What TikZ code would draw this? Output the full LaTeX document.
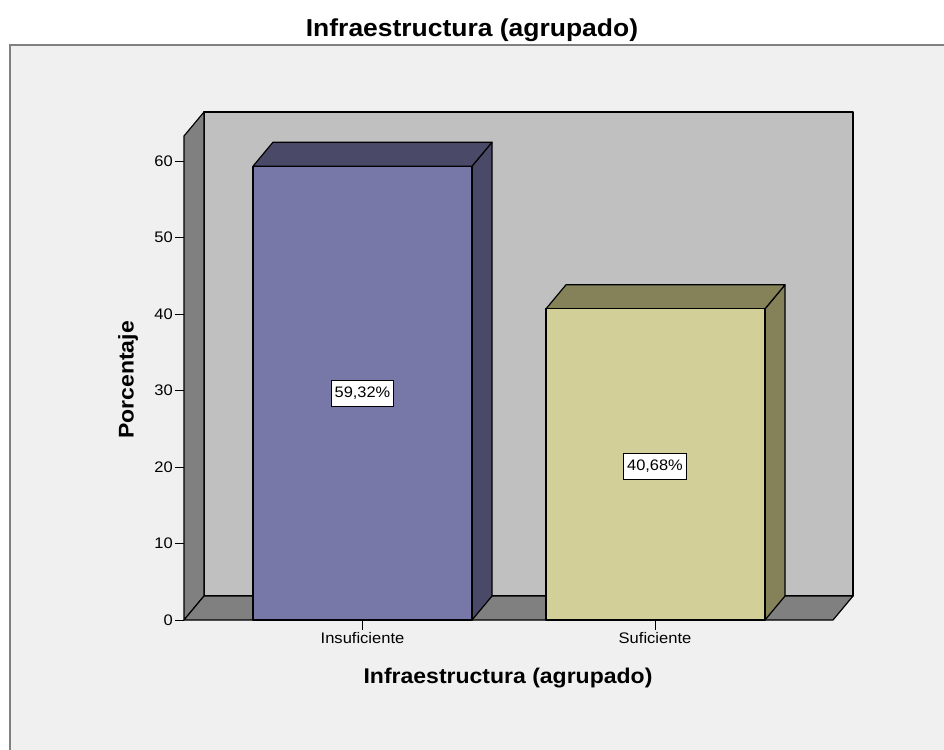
\documentclass[tikz,border=0pt]{standalone}
\usepackage{fontspec}
\setmainfont{Liberation Sans}[FakeStretch=1.08]
\usepackage{xcolor}

\definecolor{framebg}{HTML}{F0F0F0}
\definecolor{backwall}{HTML}{C0C0C0}
\definecolor{sidewall}{HTML}{808080}
\definecolor{insfront}{HTML}{7878A8}
\definecolor{insdark}{HTML}{4A4A68}
\definecolor{suffront}{HTML}{D3CF99}
\definecolor{sufdark}{HTML}{858159}

\begin{document}
\begin{tikzpicture}
  [x=1pt,y=-1pt,every node/.style={inner sep=0pt},
   face/.style={draw=black,line width=1.2pt,line join=round},
   ticklab/.style={font=\fontsize{15.3}{17}\selectfont},
   axtitle/.style={font=\bfseries\fontsize{21.3}{24}\selectfont},
   valbox/.style={draw=black,fill=white,line width=0.8pt,inner xsep=3.5pt,
     minimum height=26pt,font=\fontsize{15.2}{17}\selectfont}]
  \useasboundingbox (0,0) rectangle (944,749);
  \fill[white] (0,0) rectangle (944,749);

  % frame
  \draw[fill=framebg,draw=gray,line width=2pt] (10,45) rectangle (960,770);
  \node[font=\bfseries\fontsize{24.5}{28}\selectfont] (title) at (472,30) {Infraestructura (agrupado)};

  % walls and floor
  \draw[face,fill=backwall] (204,112) rectangle (853,596);
  \draw[face,fill=sidewall] (184,620) -- (184,136) -- (204,112) -- (204,596) -- cycle;
  \draw[face,fill=sidewall] (184,620) -- (833,620) -- (853,596) -- (204,596) -- cycle;

  % bars: left/value/front/dark
  \foreach \xl/\val/\cf/\cd in {253/59.32/insfront/insdark,546/40.68/suffront/sufdark}{
    \pgfmathsetmacro\yt{620-7.65*\val}
    \pgfmathsetmacro\xr{\xl+219}
    \draw[face,fill=\cd] (\xr,620) -- (\xr,\yt) -- (\xr+20,\yt-24) -- (\xr+20,596) -- cycle;
    \draw[face,fill=\cd] (\xl,\yt) -- (\xl+20,\yt-24) -- (\xr+20,\yt-24) -- (\xr,\yt) -- cycle;
    \draw[face,fill=\cf] (\xl,620) rectangle (\xr,\yt);
  }

  % value labels
  \node[valbox] (v1) at (362.5,393) {59,32\%};
  \node[valbox] (v2) at (655,466) {40,68\%};

  % y axis
  \foreach \v in {0,10,...,60}{
    \draw[line width=1pt] (175,620-7.65*\v) -- (184,620-7.65*\v);
    \node[ticklab,anchor=east] at (173,620-7.65*\v) {\v};
  }
  \node[axtitle,rotate=90] (ytitle) at (128,380) {Porcentaje};

  % x axis
  \foreach \xc/\lab in {362.5/Insuficiente,655/Suficiente}{
    \draw[line width=1pt] (\xc,620) -- (\xc,630);
    \node[ticklab,anchor=north] at (\xc,632) {\lab};
  }
  \node[axtitle] (xtitle) at (508,678) {Infraestructura (agrupado)};

\end{tikzpicture}
\end{document}
